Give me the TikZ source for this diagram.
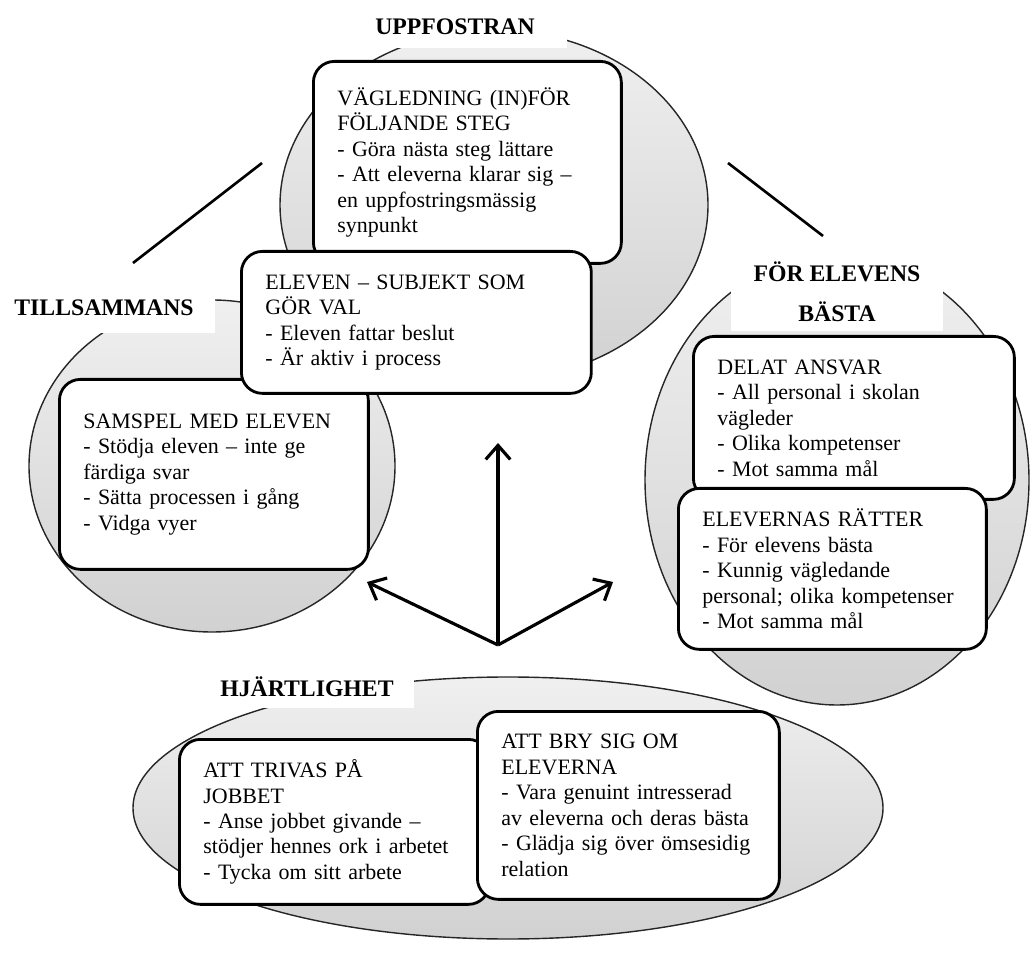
\documentclass[tikz,border=0pt]{standalone}
\usepackage{fontspec}
\setmainfont{Liberation Serif}
\usetikzlibrary{arrows.meta}

\newcommand{\bodyfont}{\fontsize{12.5}{14.5}\selectfont}
\newcommand{\headfont}{\fontsize{13.5}{16}\selectfont\bfseries}

\tikzset{
  area/.style={draw=black!85, line width=0.8pt, top color=gray!12, bottom color=gray!36},
  headbox/.style={fill=white, font=\headfont, align=center, inner sep=0pt},
  card/.style={draw, line width=1.6pt, fill=white, rounded corners=0.42cm,
    anchor=north west, inner xsep=0.48cm, inner ysep=0pt, align=left, font=\bodyfont},
  link/.style={line width=1.5pt},
  pointer/.style={line width=1.8pt, -{Straight Barb[length=8pt,width=14pt]}}
}

\begin{document}
\begin{tikzpicture}[x=0.02cm,y=-0.02cm]
\useasboundingbox (0,0) rectangle (1031,955);

\draw[area] (494,205) ellipse [x radius=214, y radius=175];
\draw[area] (212,466) ellipse [x radius=183, y radius=166];
\draw[area] (837,480) ellipse [x radius=192, y radius=225];
\draw[area] (508,808) ellipse [x radius=375, y radius=131];

\node[headbox, minimum width=4.48cm, minimum height=0.86cm] (upp) at (455,27) {UPPFOSTRAN};
\node[headbox, minimum width=4.44cm, minimum height=1cm] (till) at (104,308) {TILLSAMMANS};
\node[headbox, minimum width=4.26cm, minimum height=1.56cm] (bast) at (837,292) {FÖR ELEVENS\\[7pt]BÄSTA};
\node[headbox, minimum width=4.3cm, minimum height=0.86cm] (hjart) at (307,687) {HJÄRTLIGHET};

\node[card, minimum width=6.16cm, minimum height=4.04cm, text width=5.2cm] (vag) at (312,60)
  {VÄGLEDNING (IN)FÖR\\FÖLJANDE STEG\\- Göra nästa steg lättare\\- Att eleverna klarar sig –\\en uppfostringsmässig\\synpunkt};
\node[card, minimum width=6.18cm, minimum height=3.8cm, text width=5.22cm] (samspel) at (58,378)
  {SAMSPEL MED ELEVEN\\- Stödja eleven – inte ge\\färdiga svar\\- Sätta processen i gång\\- Vidga vyer};
\node[card, minimum width=7cm, minimum height=2.84cm, text width=6.04cm] (elev) at (240,250)
  {ELEVEN – SUBJEKT SOM\\GÖR VAL\\- Eleven fattar beslut\\- Är aktiv i process};
\node[card, minimum width=6.42cm, minimum height=3.26cm, text width=5.46cm] (delat) at (692,335)
  {DELAT ANSVAR\\- All personal i skolan\\vägleder\\- Olika kompetenser\\- Mot samma mål};
\node[card, minimum width=6.16cm, minimum height=3.22cm, text width=5.2cm] (ratter) at (677,487)
  {ELEVERNAS RÄTTER\\- För elevens bästa\\- Kunnig vägledande\\personal; olika kompetenser\\- Mot samma mål};
\node[card, minimum width=6.2cm, minimum height=3.3cm, text width=5.24cm] (trivas) at (178,738)
  {ATT TRIVAS PÅ\\JOBBET\\- Anse jobbet givande –\\stödjer hennes ork i arbetet\\- Tycka om sitt arbete};
\node[card, minimum width=6.04cm, minimum height=3.76cm, text width=5.08cm] (bry) at (476,710)
  {ATT BRY SIG OM\\ELEVERNA\\- Vara genuint intresserad\\av eleverna och deras bästa\\- Glädja sig över ömsesidig\\relation};

\coordinate (tl1) at (262,163);
\coordinate (tl2) at (133,263);
\coordinate (tr1) at (728,163);
\coordinate (tr2) at (823,236);
\draw[link] (tl1) -- (tl2);
\draw[link] (tr1) -- (tr2);

\coordinate (hub) at (498,645);
\coordinate (tipU) at (498,443);
\coordinate (tipL) at (367,582);
\coordinate (tipR) at (613,582);
\draw[pointer] (hub) -- (tipU);
\draw[pointer] (hub) -- (tipL);
\draw[pointer] (hub) -- (tipR);
\end{tikzpicture}
\end{document}
